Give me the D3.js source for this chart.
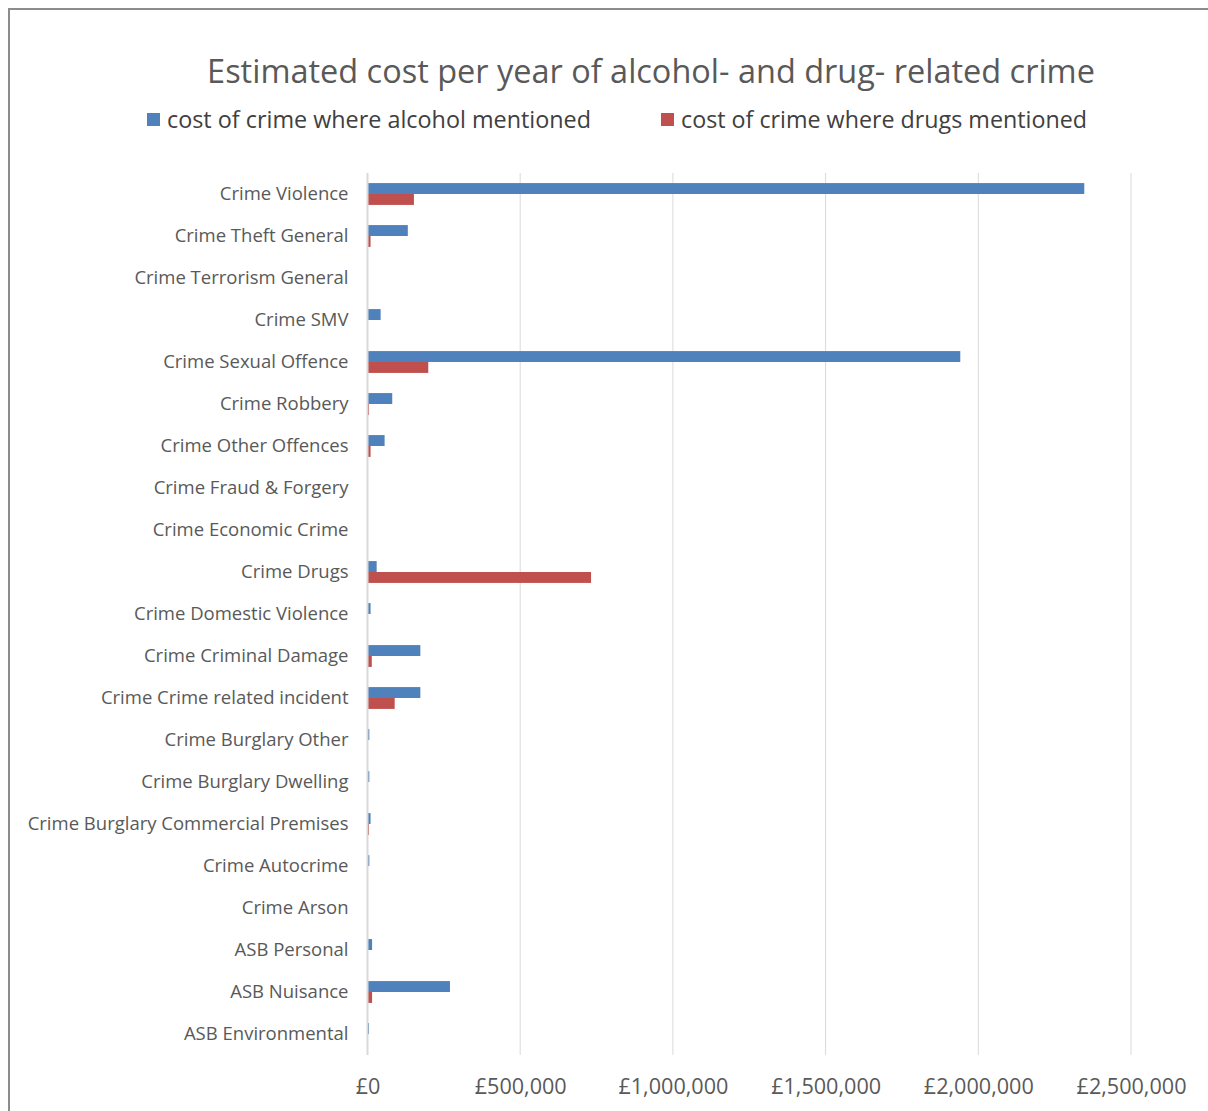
<!DOCTYPE html>
<html>
<head>
<meta charset="utf-8">
<script src="https://cdn.jsdelivr.net/npm/d3@7"></script>
<style>
  html, body { margin: 0; padding: 0; background: #fff; overflow: hidden; }
  svg { display: block; font-family: "Open Sans", Lato, sans-serif; }
</style>
</head>
<body>
<svg id="chart" width="1208" height="1111"></svg>
<script>
// Crime categories, top to bottom
const categories = [
  "Crime Violence", "Crime Theft General", "Crime Terrorism General", "Crime SMV",
  "Crime Sexual Offence", "Crime Robbery", "Crime Other Offences", "Crime Fraud & Forgery",
  "Crime Economic Crime", "Crime Drugs", "Crime Domestic Violence", "Crime Criminal Damage",
  "Crime Crime related incident", "Crime Burglary Other", "Crime Burglary Dwelling",
  "Crime Burglary Commercial Premises", "Crime Autocrime", "Crime Arson",
  "ASB Personal", "ASB Nuisance", "ASB Environmental"
];

// Estimated yearly cost (£) where alcohol was mentioned
const alcoholCost = [
  2347000, 132000, 0, 43000,
  1941000, 81000, 56000, 0,
  0, 30000, 10000, 173000,
  173000, 6000, 6000,
  10000, 6000, 0,
  15000, 270000, 5000
];

// Estimated yearly cost (£) where drugs were mentioned
const drugsCost = [
  152000, 10000, 0, 0,
  199000, 5000, 10000, 0,
  0, 732000, 0, 14000,
  89000, 0, 0,
  5000, 0, 0,
  0, 15000, 0
];

const seriesNames = ["cost of crime where alcohol mentioned", "cost of crime where drugs mentioned"];
const seriesColors = ["#4f81bd", "#c0504d"];
const tickValues = [0, 500000, 1000000, 1500000, 2000000, 2500000];

const svg = d3.select("#chart");
const textColor = "#595959";

// Scale a text element's font size so it spans the given width
function fitWidth(sel, width) {
  sel.each(function () {
    const el = d3.select(this);
    const fs = parseFloat(el.attr("font-size"));
    const w = this.getComputedTextLength();
    el.attr("font-size", (fs * width / w).toFixed(2));
  });
}

// Outer chart frame (extends past the window on the right and bottom)
svg.append("rect")
  .attr("x", 9).attr("y", 9)
  .attr("width", 1230).attr("height", 1130)
  .attr("fill", "#fff")
  .attr("stroke", "#8c8c8c")
  .attr("stroke-width", 2);

const plot = { left: 367.5, right: 1131, top: 173, bottom: 1055 };

const x = d3.scaleLinear()
  .domain([0, 2500000])
  .range([plot.left, plot.right]);

const y = d3.scaleBand()
  .domain(categories)
  .range([plot.top, plot.bottom])
  .paddingInner(0.48)
  .paddingOuter(0.24);

const inner = d3.scaleBand()
  .domain([0, 1])
  .range([0, y.bandwidth()]);

// Vertical gridlines
svg.append("g")
  .selectAll("line")
  .data(tickValues.slice(1))
  .join("line")
  .attr("x1", d => x(d)).attr("x2", d => x(d))
  .attr("y1", plot.top).attr("y2", plot.bottom)
  .attr("stroke", "#d9d9d9")
  .attr("stroke-width", 1);

// Bars
const rows = categories.map((c, i) => ({ c, vals: [alcoholCost[i], drugsCost[i]] }));
const rowG = svg.append("g")
  .selectAll("g")
  .data(rows)
  .join("g")
  .attr("transform", d => `translate(0,${y(d.c)})`);

rowG.selectAll("rect")
  .data(d => d.vals.map((v, k) => ({ v, k })).filter(e => e.v > 0))
  .join("rect")
  .attr("x", x(0))
  .attr("y", e => inner(e.k))
  .attr("width", e => x(e.v) - x(0))
  .attr("height", inner.bandwidth())
  .attr("fill", e => seriesColors[e.k]);

// Category axis line
svg.append("line")
  .attr("x1", x(0)).attr("x2", x(0))
  .attr("y1", plot.top).attr("y2", plot.bottom)
  .attr("stroke", "#d9d9d9")
  .attr("stroke-width", 2);

// Category labels
const yAxis = d3.axisLeft(y).tickSize(0).tickPadding(19);
const yG = svg.append("g")
  .attr("transform", `translate(${x(0)},0)`)
  .call(yAxis);
yG.select(".domain").remove();
const yLabels = yG.selectAll("text")
  .attr("fill", textColor)
  .attr("font-size", 18)
  .attr("font-family", "'Open Sans', sans-serif")
  .attr("dy", "0.35em");
// size all category labels alike, using the longest one as reference
{
  let widest = null, wmax = 0;
  yLabels.each(function () { const w = this.getComputedTextLength(); if (w > wmax) { wmax = w; widest = this; } });
  const fs = 18 * 321 / wmax;
  yLabels.attr("font-size", fs.toFixed(2));
}

// Value axis labels
const xAxis = d3.axisBottom(x)
  .tickValues(tickValues)
  .tickSize(0)
  .tickPadding(24)
  .tickFormat(d => "£" + d3.format(",")(d));
const xG = svg.append("g")
  .attr("transform", `translate(0,${plot.bottom})`)
  .call(xAxis);
xG.select(".domain").remove();
const xLabels = xG.selectAll("text")
  .attr("fill", textColor)
  .attr("font-size", 19)
  .attr("font-family", "'Open Sans', sans-serif");
{
  const last = xLabels.filter(d => d === 2500000).node();
  const fs = 19 * 110 / last.getComputedTextLength();
  xLabels.attr("font-size", fs.toFixed(2));
}

// Title
svg.append("text")
  .attr("x", 651).attr("y", 83)
  .attr("text-anchor", "middle")
  .attr("fill", textColor)
  .attr("font-size", 30)
  .text("Estimated cost per year of alcohol- and drug- related crime")
  .call(fitWidth, 888);

// Legend
const legendX = [147, 661];
const legendW = [424, 406];
const lg = svg.append("g")
  .selectAll("g")
  .data(seriesNames)
  .join("g")
  .attr("transform", (d, i) => `translate(${legendX[i]},120)`);
lg.append("rect")
  .attr("x", 0).attr("y", -7)
  .attr("width", 13).attr("height", 13)
  .attr("fill", (d, i) => seriesColors[i]);
lg.append("text")
  .attr("x", 20).attr("y", 0)
  .attr("dy", "0.35em")
  .attr("fill", "#404040")
  .attr("font-size", 22)
  .text(d => d)
  .each(function (d, i) { d3.select(this).call(fitWidth, legendW[i]); });
</script>
</body>
</html>
